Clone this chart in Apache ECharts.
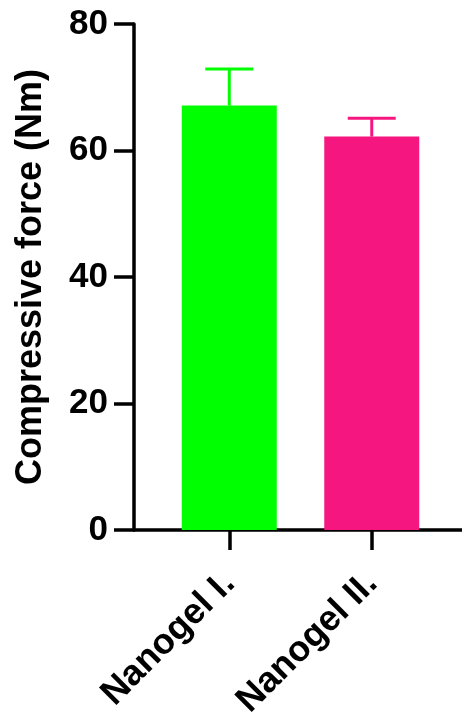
<!DOCTYPE html>
<html>
<head>
<meta charset="utf-8">
<script src="https://cdn.jsdelivr.net/npm/echarts@6/dist/echarts.min.js"></script>
<style>
  html, body { margin: 0; padding: 0; background: #fff; }
  #chart { width: 462px; height: 717px; }
</style>
</head>
<body>
<div id="chart"></div>
<script>
// Compressive force per nanogel formulation (mean with upper SD)
const categories = ['Nanogel I.', 'Nanogel II.'];
const means = [67.1, 62.2];
const sd = [5.8, 2.9];
const barColors = ['#00FF00', '#F5177F'];
const yTicks = [0, 20, 40, 60, 80];

const FONT = '"Liberation Sans", Arial, sans-serif';
const AXIS_W = 3.5;

const chart = echarts.init(document.getElementById('chart'), null, { renderer: 'canvas' });

const option = {
  animation: false,
  backgroundColor: '#ffffff',
  grid: [
    { left: 158, right: 19, top: 24, bottom: 187, outerBoundsMode: 'none', containLabel: false },
    { left: 134, right: 0, top: 24, bottom: 187, outerBoundsMode: 'none', containLabel: false }
  ],
  xAxis: [
    {
      type: 'category',
      gridIndex: 0,
      data: categories,
      axisLine: { show: false },
      axisTick: { show: true, alignWithLabel: true, length: 20, lineStyle: { color: '#000', width: AXIS_W } },
      axisLabel: {
        rotate: 45, margin: 48, color: '#000', fontFamily: FONT,
        fontWeight: 'bold', fontSize: 36, interval: 0
      },
      splitLine: { show: false }
    },
    {
      // full-width baseline running under both bars
      type: 'value',
      gridIndex: 1,
      min: 0, max: 1,
      axisLine: { show: true, lineStyle: { color: '#000', width: AXIS_W } },
      axisTick: { show: false },
      axisLabel: { show: false },
      splitLine: { show: false }
    }
  ],
  yAxis: [
    {
      type: 'value',
      gridIndex: 0,
      min: yTicks[0],
      max: yTicks[yTicks.length - 1],
      interval: yTicks[1] - yTicks[0],
      offset: 24,
      name: 'Compressive force (Nm)',
      nameLocation: 'middle',
      nameGap: 85,
      nameTextStyle: { color: '#000', fontFamily: FONT, fontWeight: 'bold', fontSize: 36 },
      axisLine: { show: true, lineStyle: { color: '#000', width: AXIS_W } },
      axisTick: { show: true, length: 20, lineStyle: { color: '#000', width: AXIS_W } },
      axisLabel: { margin: 26, color: '#000', fontFamily: FONT, fontWeight: 'bold', fontSize: 35 },
      splitLine: { show: false }
    },
    {
      type: 'value', gridIndex: 1, min: 0, max: 80, show: false
    }
  ],
  series: [
    {
      type: 'bar',
      xAxisIndex: 0, yAxisIndex: 0,
      barWidth: 95,
      data: means.map((v, i) => ({ value: v, itemStyle: { color: barColors[i] } })),
      z: 2
    },
    {
      // upper error bars: stem from the mean to mean + SD, with a cap
      type: 'custom',
      xAxisIndex: 0, yAxisIndex: 0,
      data: means.map((v, i) => [i, v, v + sd[i]]),
      z: 1,
      renderItem: function (params, api) {
        const i = api.value(0);
        const base = api.coord([i, api.value(1)]);
        const top = api.coord([i, api.value(2)]);
        const half = 24;
        const color = barColors[i];
        const style = { stroke: color, lineWidth: 3, fill: null };
        return {
          type: 'group',
          children: [
            { type: 'line', shape: { x1: base[0], y1: base[1], x2: top[0], y2: top[1] }, style: style },
            { type: 'line', shape: { x1: top[0] - half, y1: top[1], x2: top[0] + half, y2: top[1] }, style: style }
          ]
        };
      }
    }
  ]
};

chart.setOption(option);
</script>
</body>
</html>
